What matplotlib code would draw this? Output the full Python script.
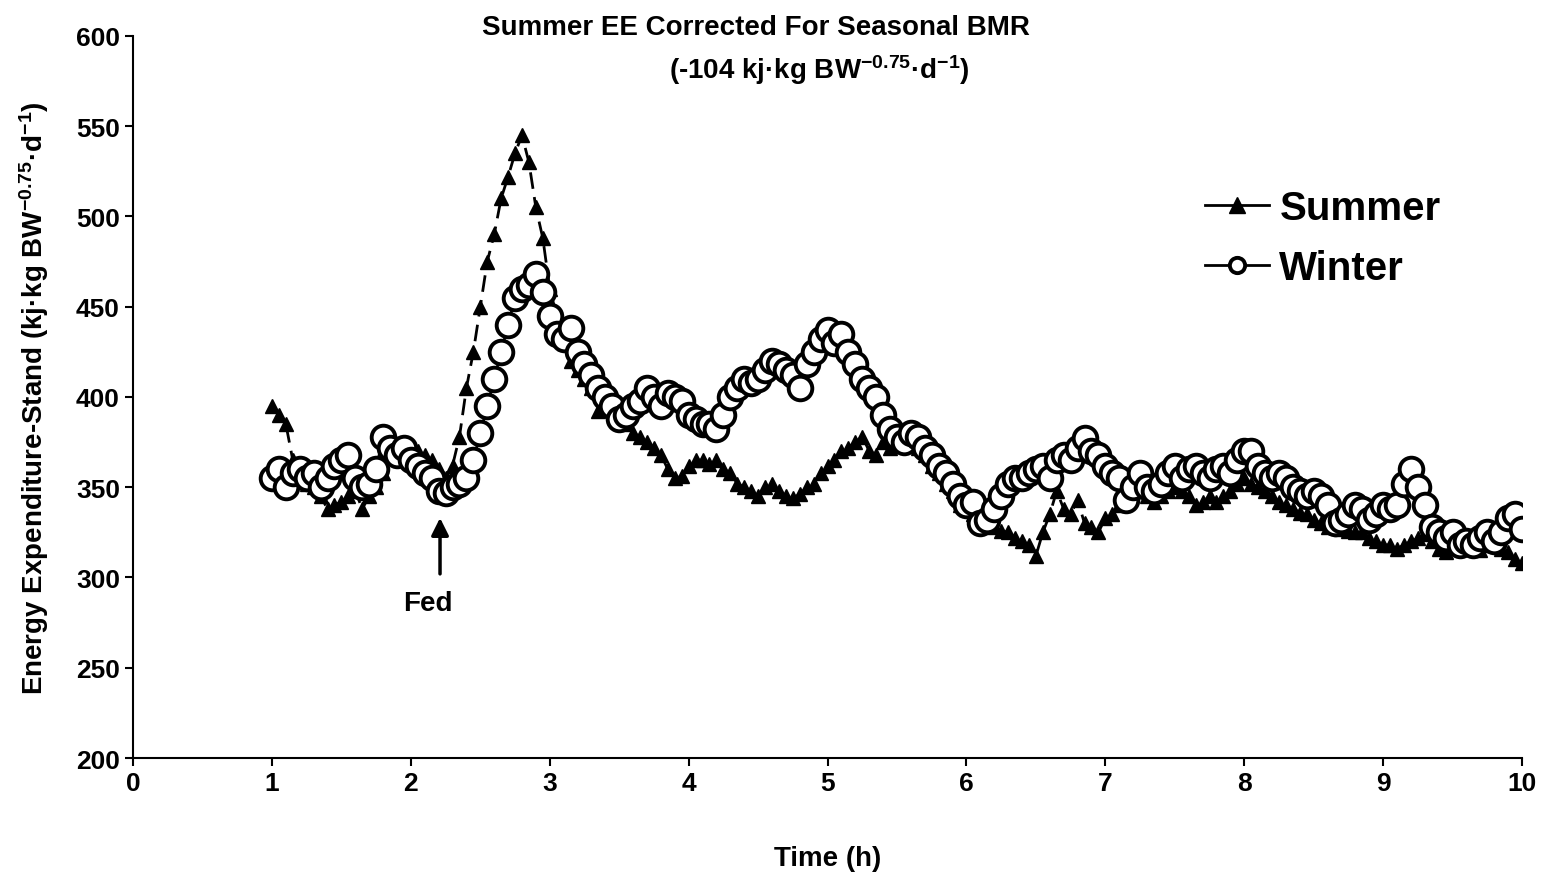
import numpy as np
import matplotlib.pyplot as plt

plt.rcParams['font.family'] = ['Liberation Sans', 'DejaVu Sans']
plt.rcParams['font.weight'] = 'bold'
plt.rcParams['mathtext.default'] = 'regular'

# Tiempo (h), una lectura cada 0.05 h
tiempo = np.round(np.arange(1.0, 10.0001, 0.05), 2)

summer = [
    395, 390, 385, 365, 358, 352, 350, 345, 338, 340,
    342, 345, 348, 338, 345, 350, 358, 368, 372, 375,
    372, 370, 368, 365, 360, 355, 362, 378, 405, 425,
    450, 475, 490, 510, 522, 535, 545, 530, 505, 488,
    460, 445, 430, 420, 415, 410, 405, 392, 398, 395,
    388, 385, 380, 378, 375, 372, 368, 360, 355, 356,
    362, 365, 365, 363, 365, 360, 358, 352, 350, 348,
    345, 350, 352, 348, 345, 344, 346, 350, 352, 358,
    362, 365, 370, 372, 375, 378, 370, 368, 375, 372,
    378, 380, 378, 372, 368, 362, 358, 352, 348, 340,
    338, 335, 332, 330, 328, 326, 325, 322, 320, 318,
    312, 325, 335, 348, 338, 335, 343, 330, 328, 325,
    333, 335, 340, 345, 348, 350, 345, 342, 345, 348,
    350, 348, 345, 340, 342, 345, 342, 345, 348, 352,
    355, 352, 350, 348, 345, 342, 340, 338, 336, 335,
    332, 330, 328, 328, 327, 326, 325, 325, 322, 320,
    318, 318, 316, 318, 320, 322, 324, 320, 316, 314,
    318, 320, 318, 316, 315, 318, 318, 316, 314, 310,
    308,
]

winter = [
    355, 360, 350, 358, 360, 355, 358, 350, 355, 362,
    365, 368, 355, 350, 352, 360, 378, 372, 368, 372,
    365, 362, 358, 355, 348, 347, 350, 352, 355, 365,
    380, 395, 410, 425, 440, 455, 460, 462, 468, 458,
    445, 435, 432, 438, 425, 418, 412, 405, 400, 395,
    388, 390, 395, 398, 405, 400, 395, 402, 400, 398,
    390, 388, 385, 385, 382, 390, 400, 405, 410, 408,
    410, 415, 420, 418, 415, 412, 405, 418, 425, 432,
    437, 430, 435, 425, 418, 410, 405, 400, 390, 382,
    378, 375, 380, 378, 372, 368, 362, 358, 352, 345,
    340, 342, 330, 332, 338, 345, 352, 355, 355, 358,
    360, 362, 355, 365, 368, 365, 372, 377, 370, 368,
    362, 358, 355, 343, 350, 358, 350, 348, 352, 358,
    362, 355, 360, 362, 358, 355, 360, 362, 358, 365,
    370, 370, 362, 358, 355, 358, 355, 350, 348, 345,
    348, 345, 340, 330, 332, 335, 340, 338, 332, 335,
    340, 338, 340, 352, 360, 350, 340, 328, 325, 322,
    325, 318, 320, 318, 322, 325, 320, 325, 333, 335,
    327,
]

fig = plt.figure(figsize=(15.49, 8.79), dpi=100)
ax = fig.add_axes([0.0859, 0.1365, 0.8967, 0.8215])

ax.plot(tiempo, summer, color='black', linestyle=(0, (6, 3)), linewidth=2,
        marker='^', markersize=10, markerfacecolor='black',
        markeredgecolor='black', label='Summer', zorder=2)
ax.plot(tiempo, winter, color='black', linestyle='-', linewidth=2,
        marker='o', markersize=17, markerfacecolor='white',
        markeredgecolor='black', markeredgewidth=2.8, label='Winter', zorder=3)

ax.set_xlim(0, 10)
ax.set_ylim(200, 600)
ax.set_xticks(range(0, 11))
ax.set_yticks(range(200, 601, 50))
ax.tick_params(labelsize=19, width=1.5, length=6, direction='out')
for lab in ax.get_xticklabels() + ax.get_yticklabels():
    lab.set_fontweight('bold')
ax.spines['top'].set_visible(False)
ax.spines['right'].set_visible(False)
ax.spines['left'].set_linewidth(1.5)
ax.spines['bottom'].set_linewidth(1.5)

ax.set_xlabel('Time (h)', fontsize=20, fontweight='bold', labelpad=36)
ax.set_ylabel('Energy Expenditure-Stand (kj·kg BW$^{-0.75}$·d$^{-1}$)',
              fontsize=20, fontweight='bold', labelpad=18)

# Flecha de alimentación
ax.annotate('', xy=(2.21, 333), xytext=(2.21, 302),
            arrowprops=dict(arrowstyle='-|>', color='black', lw=2.5,
                            mutation_scale=26, shrinkA=0, shrinkB=0))
ax.text(2.12, 286, 'Fed', ha='center', va='center', fontsize=20,
        fontweight='bold')

fig.text(0.488, 0.968, 'Summer EE Corrected For Seasonal BMR',
         ha='center', va='center', fontsize=20, fontweight='bold')
fig.text(0.529, 0.920, '(-104 kj·kg BW$^{-0.75}$·d$^{-1}$)',
         ha='center', va='center', fontsize=20, fontweight='bold')

leg = ax.legend(loc='upper left', bbox_to_anchor=(0.76, 0.81), frameon=False,
                fontsize=29, handlelength=1.6, handletextpad=0.25,
                labelspacing=0.55, borderaxespad=0)
for h in leg.legend_handles:
    h.set_linestyle('-')
    h.set_markersize(11)

fig.savefig('out.png', dpi=100)
